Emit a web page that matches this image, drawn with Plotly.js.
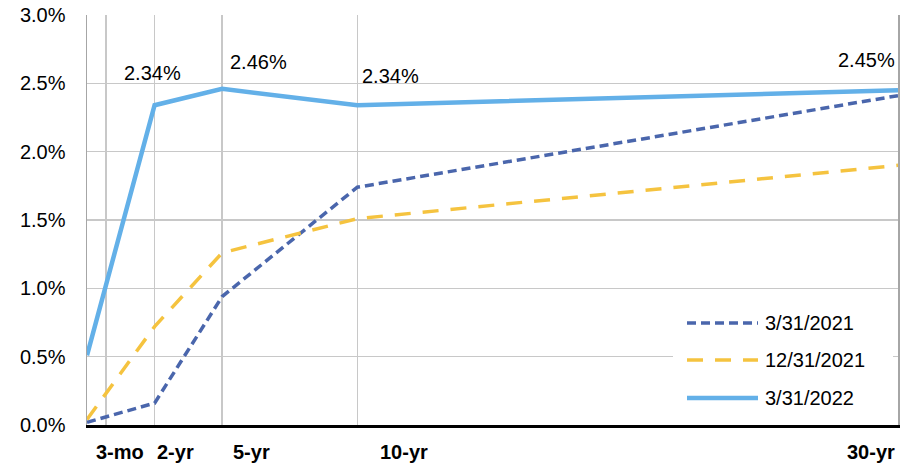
<!DOCTYPE html>
<html>
<head>
<meta charset="utf-8">
<script src="https://cdn.plot.ly/plotly-3.0.1.min.js"></script>
<style>html,body{margin:0;padding:0;background:#fff;}#chart{width:914px;height:464px;}</style>
</head>
<body>
<div id="chart"></div>
<script>
// Maturity labels and their plotted positions (years, as placed in the original chart)
const maturities = ["3-mo", "2-yr", "5-yr", "10-yr", "30-yr"];
const dataX = [0, 2.5, 5, 10, 30];
const gridX = [0.7, 2.5, 5, 10, 30];
const labelX = [1.22, 3.29, 6.07, 11.71, 29.0];

// Yields (percent)
const y_2021_03 = [0.02, 0.16, 0.94, 1.74, 2.41];
const y_2021_12 = [0.04, 0.72, 1.26, 1.51, 1.90];
const y_2022_03 = [0.51, 2.34, 2.46, 2.34, 2.45];

const seriesNames = ["3/31/2021", "12/31/2021", "3/31/2022"];
const yTicks = [0, 0.5, 1.0, 1.5, 2.0, 2.5, 3.0];

const FONT = "Liberation Sans, Arial, sans-serif";
const colors = ["#4a66ac", "#f5c33f", "#63b0e8"];
const dashes = ["9px,5px", "16px,12px", "solid"];
const widths = [3.5, 3.5, 4.5];
const series = [y_2021_03, y_2021_12, y_2022_03];

const traces = series.map((ys, i) => ({
  type: "scatter", mode: "lines", x: dataX, y: ys, name: seriesNames[i],
  line: {color: colors[i], width: widths[i], dash: dashes[i]},
  hoverinfo: "skip", showlegend: false
}));

// plot area in pixels: x 87..898, y 15..425
const px = p => (p - 87) / 811;
const py = p => (425 - p) / 410;

// Data labels for 3/31/2022 (skip 3-mo)
const labelShifts = [null, [-2, 32], [36, 27], [33, 29], [-32, 30]];
const annotations = [];
y_2022_03.forEach((v, i) => {
  if (!labelShifts[i]) return;
  annotations.push({
    x: dataX[i], y: v, xref: "x", yref: "y", text: v.toFixed(2) + "%",
    showarrow: false, xshift: labelShifts[i][0], yshift: labelShifts[i][1],
    font: {family: FONT, size: 20, color: "#000"}
  });
});

// Maturity labels below the axis
maturities.forEach((m, i) => {
  annotations.push({
    x: labelX[i], xref: "x", y: py(452), yref: "paper",
    xanchor: "center", yanchor: "middle", text: "<b>" + m + "</b>",
    showarrow: false, font: {family: FONT, size: 20, color: "#000"}
  });
});

// Custom legend
const shapes = [{
  type: "rect", xref: "paper", yref: "paper", layer: "above",
  x0: px(673), x1: px(893), y0: py(418), y1: py(302),
  fillcolor: "#ffffff", line: {width: 0}
}];
const rowY = [323, 360, 398];
seriesNames.forEach((n, i) => {
  shapes.push({
    type: "line", xref: "paper", yref: "paper", layer: "above",
    x0: px(687), x1: px(758), y0: py(rowY[i]), y1: py(rowY[i]),
    line: {color: colors[i], width: widths[i], dash: dashes[i]}
  });
  annotations.push({
    xref: "paper", yref: "paper", x: px(763), y: py(rowY[i]),
    xanchor: "left", yanchor: "middle", text: n, showarrow: false,
    font: {family: FONT, size: 20, color: "#000"}
  });
});

const layout = {
  width: 914, height: 464,
  margin: {l: 87, r: 16, t: 15, b: 39},
  paper_bgcolor: "#fff", plot_bgcolor: "#fff",
  showlegend: false,
  font: {family: FONT, size: 20, color: "#000"},
  xaxis: {
    range: [0, 30], tickvals: gridX, ticktext: gridX.map(() => ""),
    showgrid: true, gridcolor: "#c8c8c8", gridwidth: 1.5,
    zeroline: false, showline: true, linecolor: "#000", linewidth: 3,
    ticks: "", showticklabels: false, fixedrange: true
  },
  yaxis: {
    range: [0, 3.0], tickvals: yTicks,
    ticktext: yTicks.map(v => v.toFixed(1) + "%"),
    tickfont: {family: FONT, size: 20, color: "#000"},
    showgrid: true, gridcolor: "#c8c8c8", gridwidth: 1.5,
    zeroline: false, showline: true, mirror: true,
    linecolor: "#a6a6a6", linewidth: 1.5,
    ticks: "", ticklabelstandoff: 16, fixedrange: true
  },
  shapes: shapes,
  annotations: annotations
};

Plotly.newPlot("chart", traces, layout, {displayModeBar: false, staticPlot: true});
</script>
</body>
</html>
